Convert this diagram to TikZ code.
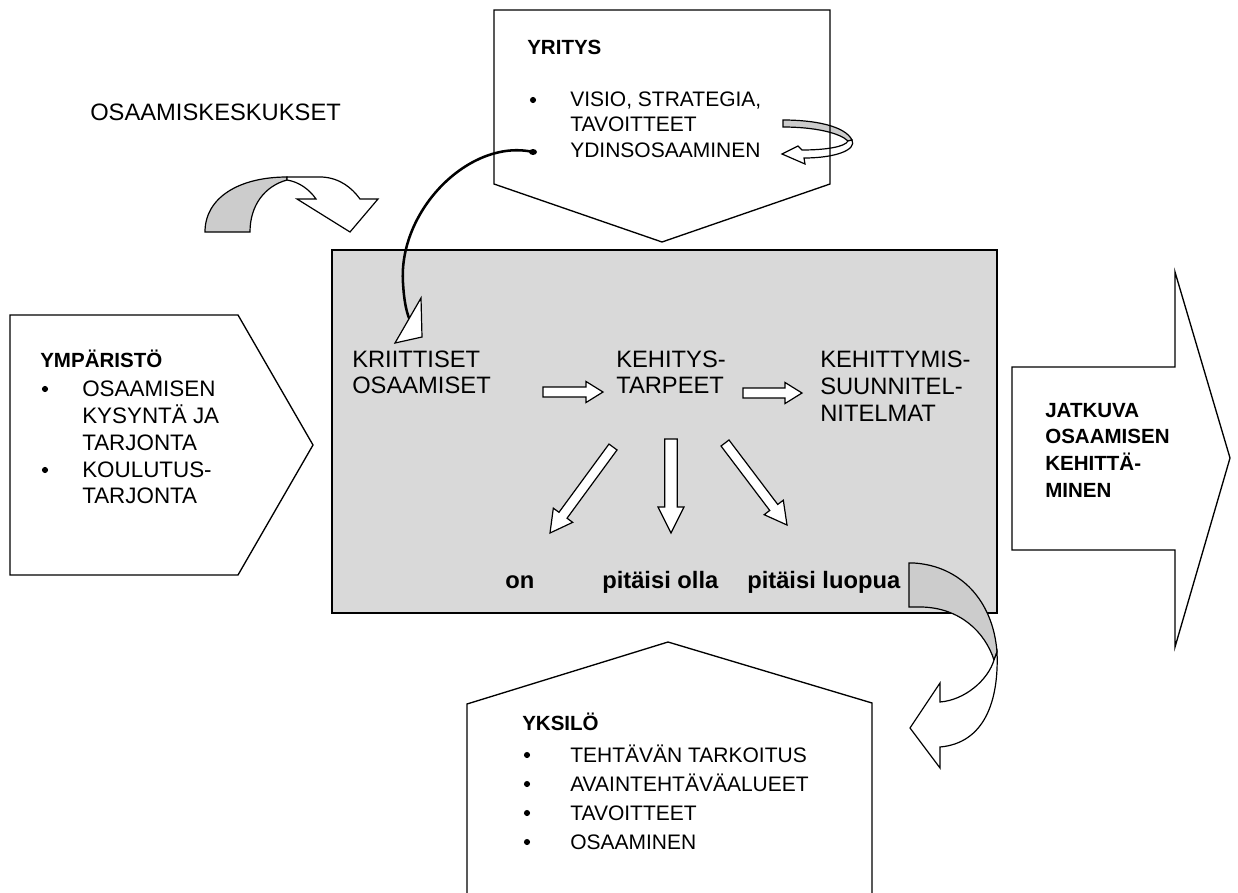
\documentclass[tikz,border=0pt]{standalone}
\usepackage{fontspec}
\setmainfont{Liberation Sans}
\usetikzlibrary{calc}

% straight block arrow between two named coordinates:
% #1 tail, #2 tip, #3 shaft half-width, #4 head half-width, #5 head length
\newcommand\blockarrow[5]{%
  \path ($(#2)!#5!(#1)$) coordinate (hb);
  \draw[blk] ($(#1)!#3!90:(#2)$) -- ($(hb)!#3!90:(#2)$) -- ($(hb)!#4!90:(#2)$)
    -- (#2) -- ($(hb)!#4!-90:(#2)$) -- ($(hb)!#3!-90:(#2)$)
    -- ($(#1)!#3!-90:(#2)$) -- cycle;
}

\begin{document}
\begin{tikzpicture}[x=0.75pt,y=-0.75pt,line join=miter,
  outline/.style={draw=black,line width=1pt},
  blk/.style={draw=black,fill=white,line width=0.9pt},
  band/.style={draw=black,fill=black!20,line width=0.9pt},
  front/.style={draw=black,fill=white,line width=0.9pt},
  txt/.style={anchor=base west,inner sep=0pt,font=\fontsize{15.75}{18}\selectfont},
  txtl/.style={anchor=base west,inner sep=0pt,font=\fontsize{16.8}{19}\selectfont},
  txtc/.style={anchor=base west,inner sep=0pt,font=\fontsize{17.8}{20}\selectfont},
  ttl/.style={anchor=base west,inner sep=0pt,font=\bfseries\fontsize{15.4}{18}\selectfont},
  lbl/.style={anchor=base west,inner sep=0pt,font=\bfseries\fontsize{17.8}{20}\selectfont},
  bul/.style={circle,fill=black,inner sep=0pt,minimum size=4.6pt}]

\useasboundingbox (0,0) rectangle (1238,892);

% ---------- YRITYS (top) ----------
% small turning arrow beside the bullet list
\draw[band] (783,120) .. controls (815,120) and (845,126) .. (852,140)
  -- (848,141) .. controls (840,133) and (815,127) .. (783,127) -- cycle;
\draw[front] (852,140) .. controls (857,150) and (835,158) .. (804,158)
  -- (805,164) -- (782,154) -- (798,146) -- (802,150)
  .. controls (825,150) and (845,147) .. (848,141) -- cycle;
\draw[outline] (494,10) -- (830,10) -- (830,184) -- (662,242) -- (494,184) -- cycle;
\node[ttl] (yritys) at (527,55) {YRITYS};
\node[bul] (yb1) at (533,100) {};
\node[txt] (y1) at (570,107) {VISIO, STRATEGIA,};
\node[txt] (y2) at (570,132) {TAVOITTEET};
\node[txt] (y3) at (570,157) {YDINSOSAAMINEN};

% ---------- OSAAMISKESKUKSET ----------
\node[txtc] (osk) at (90,120) {OSAAMISKESKUKSET};
\draw[band] (205,232) -- (250,232) .. controls (250,205) and (265,186) .. (287,180)
  -- (287,177) .. controls (240,177) and (205,197) .. (205,232) -- cycle;
\draw[front] (287,177) -- (322,177) .. controls (340,178) and (352,188) .. (360,199)
  -- (378,199) -- (350,232) -- (297,199) -- (316,199)
  .. controls (309,189) and (299,182) .. (287,180) -- cycle;

% ---------- central panel ----------
\draw[fill=black!15,draw=black,line width=1.2pt] (332,250) rectangle (997,613);

\node[txtc] (k1) at (352,367) {KRIITTISET};
\node[txtc] (k2) at (352,393) {OSAAMISET};
\node[txtc] (t1) at (616,367) {KEHITYS-};
\node[txtc] (t2) at (616,393) {TARPEET};
\node[txtc] (s1) at (820,367) {KEHITTYMIS-};
\node[txtc] (s2) at (820,394) {SUUNNITEL-};
\node[txtc] (s3) at (820,421) {NITELMAT};

\node[lbl] (on) at (505,588) {on};
\node[lbl] (olla) at (602,588) {pitäisi olla};
\node[lbl] (luopua) at (747,588) {pitäisi luopua};

\coordinate (a1t) at (543,392); \coordinate (a1h) at (603,392);
\coordinate (a2t) at (743,393); \coordinate (a2h) at (802,393);
\coordinate (a3t) at (613,447); \coordinate (a3h) at (550,533);
\coordinate (a4t) at (671,439); \coordinate (a4h) at (671,533);
\coordinate (a5t) at (725,443); \coordinate (a5h) at (787,525);
\blockarrow{a1t}{a1h}{3.75pt}{7.9pt}{12.75pt}
\blockarrow{a2t}{a2h}{3.75pt}{7.9pt}{12.75pt}
\blockarrow{a3t}{a3h}{3.75pt}{9pt}{16.5pt}
\blockarrow{a4t}{a4h}{4.7pt}{9.75pt}{19.5pt}
\blockarrow{a5t}{a5h}{3.75pt}{9pt}{16.5pt}

% thin curved arrow from YRITYS down into the panel
\coordinate (cs) at (533,152);
\coordinate (ce) at (409,318);
\draw[line width=1.9pt,line cap=round] (cs) .. controls (470,138) and (398,210) .. (403,283)
  .. controls (404,300) and (406,310) .. (ce);
\fill (cs) ellipse (4 and 3);
\draw[blk] (421,298) -- (422,337) -- (395,343) -- cycle;

% ---------- YMPÄRISTÖ (left) ----------
\draw[outline] (10,315) -- (238,315) -- (313,445) -- (238,575) -- (10,575) -- cycle;
\node[ttl] (ymp) at (40,367) {YMPÄRISTÖ};
\node[bul] (eb1) at (45,389) {};
\node[txtl] (e1) at (82,396) {OSAAMISEN};
\node[txtl] (e2) at (82,423) {KYSYNTÄ JA};
\node[txtl] (e3) at (82,450) {TARJONTA};
\node[bul] (eb2) at (45,470) {};
\node[txtl] (e4) at (82,477) {KOULUTUS-};
\node[txtl] (e5) at (82,503) {TARJONTA};

% ---------- JATKUVA (right) ----------
\draw[outline] (1012,367) -- (1175,367) -- (1175,272) -- (1230,458) -- (1175,647)
  -- (1175,550) -- (1012,550) -- cycle;
\node[ttl] (j1) at (1045,417) {JATKUVA};
\node[ttl] (j2) at (1045,443) {OSAAMISEN};
\node[ttl] (j3) at (1045,470) {KEHITTÄ-};
\node[ttl] (j4) at (1045,497) {MINEN};

% ---------- curved arrow from the panel to YKSILÖ ----------
\draw[band] (909,563) -- (914,563) .. controls (960,566) and (993,600) .. (997,652)
  -- (994,660) .. controls (985,632) and (960,608) .. (922,607) -- (909,607) -- cycle;
\draw[front] (997,652) .. controls (999,700) and (985,743) .. (940,747)
  -- (940,768) -- (910,728) -- (940,683) -- (940,702)
  .. controls (965,700) and (988,680) .. (994,660) -- cycle;

% ---------- YKSILÖ (bottom) ----------
\draw[outline] (467,900) -- (467,704) -- (668,642) -- (872,703) -- (872,900);
\node[ttl] (yks) at (522,730) {YKSILÖ};
\node[bul] (ib1) at (527,755) {};
\node[txt] (i1) at (570,762) {TEHTÄVÄN TARKOITUS};
\node[bul] (ib2) at (527,784) {};
\node[txt] (i2) at (570,791) {AVAINTEHTÄVÄALUEET};
\node[bul] (ib3) at (527,813) {};
\node[txt] (i3) at (570,820) {TAVOITTEET};
\node[bul] (ib4) at (527,842) {};
\node[txt] (i4) at (570,849) {OSAAMINEN};

\end{tikzpicture}
\end{document}
